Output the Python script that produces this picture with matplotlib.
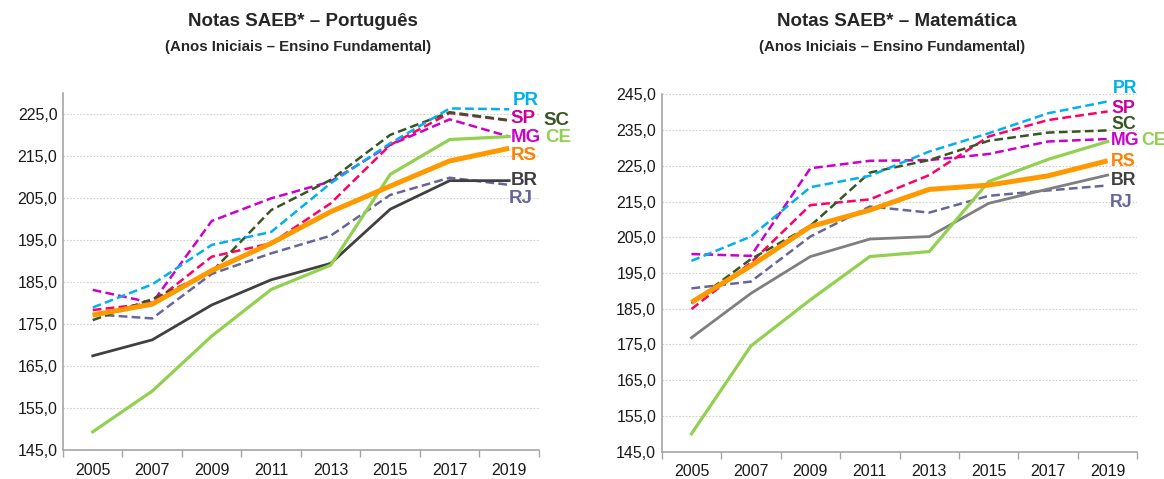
import numpy as np
import matplotlib.pyplot as plt
from matplotlib.ticker import FuncFormatter

plt.rcParams['font.family'] = ['Liberation Sans', 'DejaVu Sans']

anos = ['2005', '2007', '2009', '2011', '2013', '2015', '2017', '2019']

# Português (anos iniciais)
port_pr = [179.0, 184.5, 193.9, 197.0, 208.6, 218.1, 226.4, 226.2]
port_sp = [178.4, 180.0, 191.1, 194.3, 203.8, 217.7, 225.3, 223.5]
port_sc = [176.0, 181.0, 187.5, 202.2, 209.4, 220.1, 225.5, 223.6]
port_mg = [183.2, 180.1, 199.6, 205.0, 209.0, 217.7, 223.8, 219.7]
port_ce = [149.4, 159.1, 172.2, 183.3, 189.1, 210.7, 219.0, 219.7]
port_rs = [177.2, 179.8, 187.8, 194.3, 201.8, 207.9, 213.9, 216.9]
port_br = [167.5, 171.3, 179.6, 185.6, 189.5, 202.4, 209.2, 209.2]
port_rj = [177.4, 176.4, 187.0, 191.9, 196.1, 205.8, 209.9, 208.2]

# Matemática (anos iniciais)
mat_pr = [198.4, 205.2, 219.0, 222.2, 229.0, 234.1, 239.7, 243.0]
mat_sp = [184.9, 197.9, 214.0, 215.6, 222.4, 233.2, 237.8, 240.2]
mat_sc = [186.5, 198.9, 208.2, 223.1, 226.6, 232.0, 234.3, 234.9]
mat_mg = [200.3, 199.8, 224.3, 226.4, 226.6, 228.3, 231.8, 232.5]
mat_ce = [150.0, 174.6, 187.5, 199.6, 201.0, 220.6, 226.8, 231.8]
mat_rs = [186.8, 197.0, 208.0, 212.6, 218.4, 219.6, 222.2, 226.4]
mat_br = [176.9, 189.3, 199.6, 204.5, 205.2, 214.5, 218.5, 222.4]
mat_rj = [190.7, 192.6, 205.2, 213.6, 211.9, 216.6, 218.1, 219.5]

cores = {'PR': '#00B0F0', 'SP': '#FF0066', 'SC': '#375623', 'MG': '#CC00CC',
         'CE': '#92D050', 'RS': '#FF9900', 'RJ': '#666699'}
cores_rotulo = {'PR': '#00B0F0', 'SP': '#CC0099', 'SC': '#375623', 'MG': '#CC00CC',
                'CE': '#92D050', 'RS': '#FF8000', 'RJ': '#666699'}

fig = plt.figure(figsize=(11.64, 4.79), dpi=100)
ax1 = fig.add_axes([0.0541, 0.0599, 0.4089, 0.7453])
ax2 = fig.add_axes([0.5685, 0.0570, 0.4086, 0.7461])


def desenha(ax, dados, cor_br, ylim, rotulos, tam):
    x = np.arange(len(anos))
    for uf in ['RJ', 'MG', 'SP', 'SC', 'PR']:
        ax.plot(x, dados[uf], color=cores[uf], lw=1.8, dashes=(3.5, 1.7), zorder=3)
    ax.plot(x, dados['BR'], color=cor_br, lw=2.0, zorder=4)
    ax.plot(x, dados['CE'], color=cores['CE'], lw=2.3, zorder=4)
    ax.plot(x, dados['RS'], color=cores['RS'], lw=3.6, zorder=5, solid_capstyle='butt')

    ax.set_xlim(-0.5, len(anos) - 0.5)
    ax.set_ylim(*ylim)
    ax.set_yticks(np.arange(145, ylim[1] + 0.1, 10))
    ax.yaxis.set_major_formatter(FuncFormatter(lambda v, p: f'{v:.1f}'.replace('.', ',')))
    ax.set_xticks(x)
    ax.set_xticklabels(anos)
    ax.set_xticks(np.arange(-0.5, len(anos)), minor=True)
    ax.tick_params(axis='x', which='major', length=0, pad=9, labelsize=11.5, labelcolor='#1a1a1a')
    ax.tick_params(axis='x', which='minor', length=5, color='#A6A6A6', width=1)
    ax.tick_params(axis='y', length=0, pad=4, labelsize=11.5, labelcolor='#1a1a1a')
    for s in ['top', 'right']:
        ax.spines[s].set_visible(False)
    for s in ['left', 'bottom']:
        ax.spines[s].set_color('#A6A6A6')
        ax.spines[s].set_linewidth(1.2)
    ax.grid(axis='y', color='#D0D0D0', lw=0.8, ls=(0, (1.5, 1.5)))
    ax.set_axisbelow(True)

    for uf, (xr, yr) in rotulos.items():
        cor = '#404040' if uf == 'BR' else cores_rotulo[uf]
        ax.text(xr, yr, uf, color=cor, fontsize=tam, fontweight='bold',
                va='center', ha='left', clip_on=False)


port = {'PR': port_pr, 'SP': port_sp, 'SC': port_sc, 'MG': port_mg,
        'CE': port_ce, 'RS': port_rs, 'BR': port_br, 'RJ': port_rj}
mat = {'PR': mat_pr, 'SP': mat_sp, 'SC': mat_sc, 'MG': mat_mg,
       'CE': mat_ce, 'RS': mat_rs, 'BR': mat_br, 'RJ': mat_rj}

desenha(ax1, port, '#404040', (145, 230),
        {'PR': (7.06, 228.4), 'SP': (7.03, 223.9), 'SC': (7.57, 223.6), 'MG': (7.03, 219.4),
         'CE': (7.6, 219.4), 'RS': (7.03, 215.3), 'BR': (7.03, 209.2), 'RJ': (7.0, 205.0)}, 13.5)
desenha(ax2, mat, '#7F7F7F', (145, 245),
        {'PR': (7.09, 246.7), 'SP': (7.06, 241.0), 'SC': (7.06, 236.6), 'MG': (7.06, 232.0),
         'CE': (7.57, 232.0), 'RS': (7.06, 226.2), 'BR': (7.06, 221.0), 'RJ': (7.04, 214.8)}, 12.8)

for xc, nome in [(303 / 1164, 'Português'), (897 / 1164, 'Matemática')]:
    fig.text(xc, 1 - 22 / 479, f'Notas SAEB* – {nome}', ha='center', va='center',
             fontsize=13.5, fontweight='bold', color='#262626')
    fig.text(xc - 5 / 1164, 1 - 47 / 479, '(Anos Iniciais – Ensino Fundamental)', ha='center',
             va='center', fontsize=10.8, fontweight='bold', color='#262626')

fig.savefig('out.png', dpi=100)
